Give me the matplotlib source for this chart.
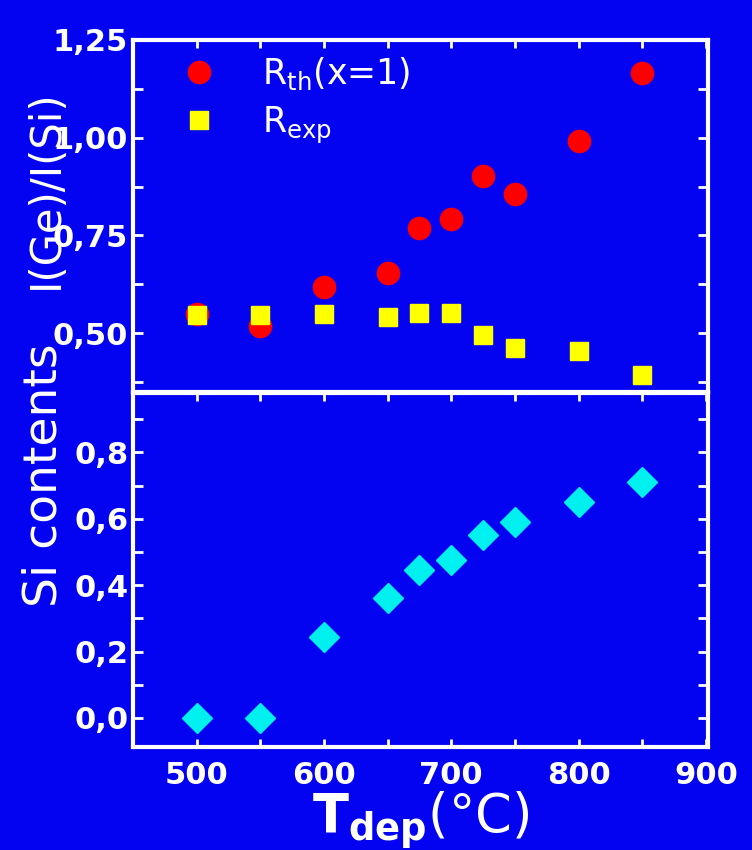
import matplotlib
matplotlib.use("Agg")
import matplotlib.pyplot as plt
from matplotlib.ticker import MultipleLocator, FuncFormatter

# deposition temperature (C)
t_dep = [500, 550, 600, 650, 675, 700, 725, 750, 800, 850]

# intensity ratios I(Ge)/I(Si)
r_th = [0.548, 0.518, 0.617, 0.653, 0.770, 0.793, 0.903, 0.857, 0.992, 1.166]
r_exp = [0.546, 0.546, 0.548, 0.541, 0.551, 0.551, 0.495, 0.462, 0.454, 0.393]

# Si contents
si_cont = [0.0, 0.0, 0.244, 0.361, 0.445, 0.475, 0.55, 0.59, 0.65, 0.71]

BG = "#0303F2"
FG = "white"

plt.rcParams["font.family"] = "DejaVu Sans"

fig = plt.figure(figsize=(7.52, 8.5), dpi=100, facecolor=BG)
ax1 = fig.add_axes([0.177, 0.539, 0.765, 0.414], facecolor=BG)
ax2 = fig.add_axes([0.177, 0.121, 0.765, 0.417], facecolor=BG, sharex=ax1)


def comma(decimals):
    return FuncFormatter(lambda v, p: f"{v:.{decimals}f}".replace(".", ","))


# upper panel
ax1.plot(t_dep, r_th, "o", color="#FF0000", markersize=16, linestyle="none",
         label=r"R$_{\mathregular{th}}$(x=1)")
ax1.plot(t_dep, r_exp, "s", color="#FFFF00", markersize=13, linestyle="none",
         label=r"R$_{\mathregular{exp}}$")
ax1.set_xlim(450, 902)
ax1.set_ylim(0.35, 1.25)
ax1.yaxis.set_major_locator(MultipleLocator(0.25))
ax1.yaxis.set_minor_locator(MultipleLocator(0.125))
ax1.yaxis.set_major_formatter(comma(2))
ax1.xaxis.set_major_locator(MultipleLocator(100))
ax1.xaxis.set_minor_locator(MultipleLocator(25))
ax1.tick_params(axis="x", which="both", bottom=False, labelbottom=False,
                top=True, direction="in", length=6, width=2, color=FG)
ax1.tick_params(axis="y", which="both", left=True, right=True, direction="in",
                length=7, width=2, color=FG, labelcolor=FG, labelsize=22)
for lab in ax1.get_yticklabels():
    lab.set_fontweight("bold")

leg = ax1.legend(loc="upper left", bbox_to_anchor=(0.0, 1.045), frameon=False,
                 fontsize=25, labelcolor=FG, handletextpad=0.8,
                 labelspacing=0.35, borderpad=0.4)

ax1.set_ylabel("I(Ge)/I(Si)", color=FG, fontsize=30)
ax1.yaxis.set_label_coords(-0.115, 0.577)

# lower panel
ax2.plot(t_dep, si_cont, "D", color="#00F0F0", markersize=15, linestyle="none")
ax2.set_ylim(-0.088, 0.98)
ax2.yaxis.set_major_locator(MultipleLocator(0.2))
ax2.yaxis.set_minor_locator(MultipleLocator(0.1))
ax2.yaxis.set_major_formatter(comma(1))
ax2.xaxis.set_minor_locator(MultipleLocator(50))
ax2.tick_params(axis="x", which="both", bottom=True, top=True, direction="in",
                length=6, width=2, color=FG, labelcolor=FG, labelsize=22, pad=10)
ax2.tick_params(axis="y", which="both", left=True, right=True, direction="in",
                length=7, width=2, color=FG, labelcolor=FG, labelsize=22)
for lab in ax2.get_yticklabels() + ax2.get_xticklabels():
    lab.set_fontweight("bold")

ax2.set_ylabel("Si contents", color=FG, fontsize=34)
ax2.yaxis.set_label_coords(-0.115, 0.766)
ax2.set_xlabel(r"$\mathbf{T}_{\mathbf{dep}}$(°C)", color=FG, fontsize=38,
               labelpad=0)

for ax in (ax1, ax2):
    for sp in ax.spines.values():
        sp.set_color(FG)
        sp.set_linewidth(3)

fig.savefig("out.png", dpi=100, facecolor=BG)
